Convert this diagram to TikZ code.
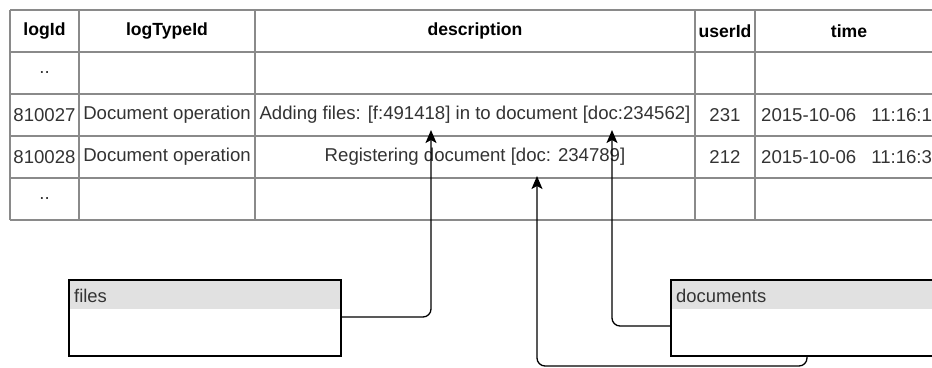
\documentclass[tikz,border=0pt]{standalone}
\usepackage{fontspec}
\setmainfont{Liberation Sans}
\usetikzlibrary{arrows.meta}
\definecolor{gridline}{HTML}{8A8A8A}
\definecolor{bodytext}{HTML}{333333}
\definecolor{headfill}{HTML}{E1E1E1}
\tikzset{
  grid/.style={draw=gridline, line width=1.6pt},
  headcell/.style={font=\fontsize{17.6}{18}\selectfont\bfseries, text=black, inner sep=0pt},
  bodycell/.style={font=\fontsize{18.6}{19}\selectfont, text=bodytext, inner sep=0pt},
  entity/.style={draw=black, line width=1.4pt},
  entityhead/.style={fill=headfill},
  entitytitle/.style={font=\fontsize{18.4}{19}\selectfont, text=bodytext, inner sep=0pt, anchor=base west},
  ref/.style={draw=black, line width=1.3pt, rounded corners=8pt,
    -{Stealth[length=13pt, width=11pt, inset=3pt]}}
}
\begin{document}
\begin{tikzpicture}[x=1pt, y=-1pt]
\useasboundingbox (0,0) rectangle (932,367);
\clip (0,0) rectangle (932,367);
\fill[white] (0,0) rectangle (932,367);

% log table grid
\foreach \yy in {10,52,94,136,178,220}
  \draw[grid] (10,\yy) -- (945,\yy);
\foreach \xx in {10,79,255,695,755}
  \draw[grid] (\xx,10) -- (\xx,220);

% header row
\node[headcell] (hLogId)   at (44.5,31) {logId};
\node[headcell] (hType)    at (167,31)  {logTypeId};
\node[headcell] (hDesc)    at (475,31)  {description};
\node[headcell] (hUser)    at (725,31)  {userId};
\node[headcell] (hTime)    at (849,31)  {time};

% rows
\node[bodycell] (r1id) at (44.5,73) {..};

\node[bodycell] (r2id)   at (44.5,115) {810027};
\node[bodycell] (r2type) at (167,115)  {Document operation};
\node[bodycell] (r2desc) at (475,115)  {Adding files: [f:491418] in to document [doc:234562]};
\node[bodycell] (r2user) at (725,115)  {231};
\node[bodycell, anchor=west] (r2time) at (761,115) {2015-10-06\hspace{15pt}11:16:11};

\node[bodycell] (r3id)   at (44.5,157) {810028};
\node[bodycell] (r3type) at (167,157)  {Document operation};
\node[bodycell] (r3desc) at (475,157)  {Registering document [doc: 234789]};
\node[bodycell] (r3user) at (725,157)  {212};
\node[bodycell, anchor=west] (r3time) at (761,157) {2015-10-06\hspace{15pt}11:16:31};

\node[bodycell] (r4id) at (44.5,199) {..};

% entity boxes
\fill[entityhead] (69,280) rectangle (341,309);
\draw[entity] (69,280) rectangle (341,356);
\node[entitytitle] (files) at (74,302) {files};
\coordinate (filesOut) at (341,317);

\fill[entityhead] (671,280) rectangle (945,309);
\draw[entity] (671,280) rectangle (945,356);
\node[entitytitle] (documents) at (676,302) {documents};
\coordinate (docsLeft) at (671,326);
\coordinate (docsBottom) at (807,356);

% reference targets inside the description cells
\coordinate (fileRef) at (431,130);
\coordinate (docRefA) at (612,130);
\coordinate (docRefB) at (537,176);

% references
\draw[ref] (filesOut) -| (fileRef);
\draw[ref] (docsLeft) -| (docRefA);
\draw[ref] (docsBottom) -- (807,366) -| (docRefB);
\end{tikzpicture}
\end{document}
